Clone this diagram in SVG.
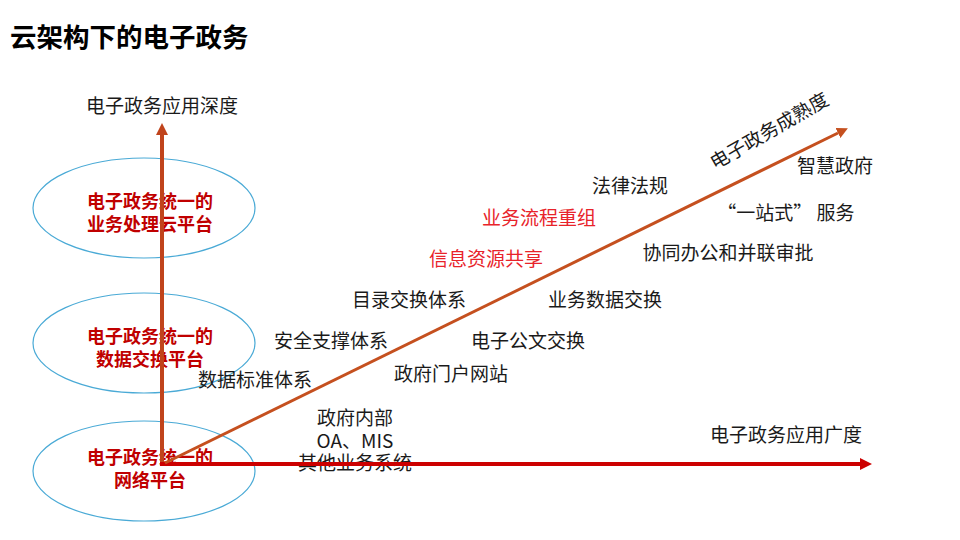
<svg xmlns="http://www.w3.org/2000/svg" width="960" height="540" viewBox="0 0 960 540">
<style>
.t{font-family:"Noto Sans CJK SC","Microsoft YaHei",sans-serif;font-size:19px;fill:#1a1a1a;text-anchor:middle}
.r{fill:#E8232A}
.e{fill:none;stroke:#4AAAD6;stroke-width:1.2}
.et{font-family:"Noto Sans CJK SC",sans-serif;font-size:18px;font-weight:bold;fill:#C00000;text-anchor:middle}
</style>
<defs>
<marker id="ao" viewBox="0 0 12 12" refX="0" refY="6" markerWidth="12" markerHeight="12" markerUnits="userSpaceOnUse" orient="auto"><path d="M0,0L12,6L0,12z" fill="#C0441C"/></marker>
<marker id="ad" viewBox="0 0 12 12" refX="0" refY="6" markerWidth="11" markerHeight="11" markerUnits="userSpaceOnUse" orient="auto"><path d="M0,0L12,6L0,12z" fill="#C5501F"/></marker>
<marker id="ar" viewBox="0 0 12 12" refX="0" refY="6" markerWidth="12" markerHeight="12" markerUnits="userSpaceOnUse" orient="auto"><path d="M0,0L12,6L0,12z" fill="#CC0000"/></marker>
</defs>
<rect width="960" height="540" fill="#fff"/>
<text x="10" y="47" style="font-family:'Noto Sans CJK SC',sans-serif;font-size:26.5px;font-weight:bold;fill:#000">云架构下的电子政务</text>
<g id="platform-cloud">
<ellipse class="e" cx="144" cy="208" rx="111" ry="50"/>
<text class="et" x="150" y="208">电子政务统一的</text>
<text class="et" x="150" y="231">业务处理云平台</text>
</g>
<g id="platform-data">
<ellipse class="e" cx="144" cy="343" rx="111" ry="50"/>
<text class="et" x="150" y="343">电子政务统一的</text>
<text class="et" x="150" y="366">数据交换平台</text>
</g>
<g id="platform-network">
<ellipse class="e" cx="144" cy="471" rx="111" ry="50"/>
<text class="et" x="150" y="464">电子政务统一的</text>
<text class="et" x="150" y="487">网络平台</text>
</g>
<g id="labels">
<text class="t" x="162" y="113">电子政务应用深度</text>
<text class="t" x="786" y="442">电子政务应用广度</text>
<text class="t" x="630" y="193">法律法规</text>
<text class="t r" x="539" y="225">业务流程重组</text>
<text class="t r" x="486" y="266">信息资源共享</text>
<text class="t" x="409" y="307">目录交换体系</text>
<text class="t" x="605" y="307">业务数据交换</text>
<text class="t" x="331" y="348">安全支撑体系</text>
<text class="t" x="528" y="348">电子公文交换</text>
<text class="t" x="255" y="387">数据标准体系</text>
<text class="t" x="451" y="381">政府门户网站</text>
<text class="t" x="355" y="425">政府内部</text>
<text class="t" x="355" y="448">OA、MIS</text>
<text class="t" x="355" y="470">其他业务系统</text>
<text class="t" x="835" y="173">智慧政府</text>
<text class="t" x="786" y="220">“一站式” 服务</text>
<text class="t" x="728" y="260">协同办公和并联审批</text>
<text class="t" style="text-anchor:start" transform="translate(715,170) rotate(-30)">电子政务成熟度</text>
</g>
<g id="connectors">
<line x1="162" y1="466" x2="162" y2="135" stroke="#C0441C" stroke-width="4" marker-end="url(#ao)"/>
<line x1="160" y1="464" x2="860" y2="464" stroke="#CC0000" stroke-width="4" marker-end="url(#ar)"/>
<line x1="165" y1="463" x2="838" y2="133" stroke="#C5501F" stroke-width="3" marker-end="url(#ad)"/>
</g>
</svg>
